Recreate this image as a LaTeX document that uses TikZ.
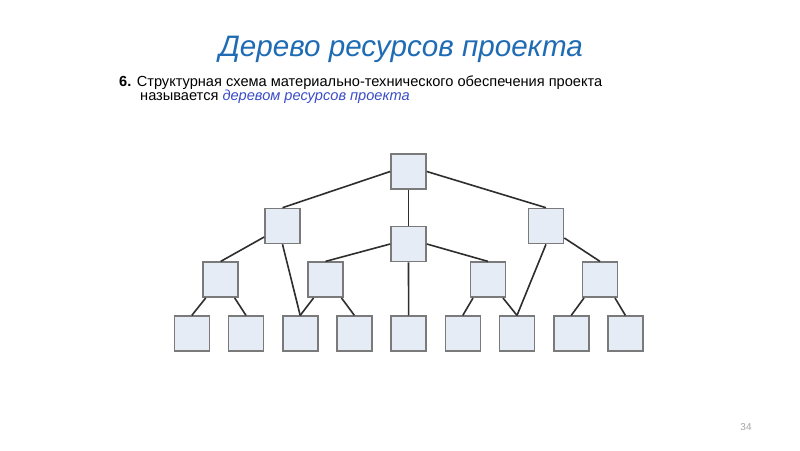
\documentclass[tikz,border=0pt]{standalone}
\usepackage{fontspec}
\setmainfont{Liberation Sans}
\begin{document}
\begin{tikzpicture}[x=1pt,y=-1pt,
  box/.style={draw=boxline,fill=boxfill,line width=1.6pt,minimum size=35pt,inner sep=0pt},
  edge/.style={draw=edgecol,line width=1.6pt},
  ]
\definecolor{boxline}{HTML}{7A7A7A}
\definecolor{boxfill}{HTML}{E6ECF6}
\definecolor{edgecol}{HTML}{2E2E2E}
\definecolor{titleblue}{HTML}{1F6CB5}
\definecolor{termblue}{HTML}{3A4CC8}
\definecolor{pagegray}{HTML}{A6A6A6}
\useasboundingbox[fill=white] (0,0) rectangle (800,450);
% texts
\node[anchor=base,inner sep=0pt,text=titleblue,font=\fontsize{29.6}{36}\selectfont\itshape] (title) at (401,56) {Дерево ресурсов проекта};
\node[anchor=base west,inner sep=0pt,font=\fontsize{14.6}{17}\selectfont] (line1) at (119,86.7) {\textbf{6.} Структурная схема материально-технического обеспечения проекта};
\node[anchor=base west,inner sep=0pt,font=\fontsize{14.6}{17}\selectfont] (line2) at (140,100.7) {называется \textcolor{termblue}{\itshape деревом ресурсов проекта}};
\node[inner sep=0pt,text=pagegray,font=\fontsize{10}{12}\selectfont] (page) at (746,427) {34};
% boxes
\node[box] (root) at (408.5,171.5) {};
\node[box] (L) at (282.5,226) {};
\node[box] (M) at (408.5,244) {};
\node[box] (R) at (546,226) {};
\node[box] (a) at (220.7,279.7) {};
\node[box] (b) at (325.5,279.7) {};
\node[box] (c) at (488,279.7) {};
\node[box] (d) at (600,279.7) {};
\foreach \i/\x in {1/191.8,2/246,3/300.2,4/354.4,5/408.6,6/462.8,7/517,8/571.2,9/625.4}
  \node[box] (n\i) at (\x,333.7) {};
% connectors
\draw[edge] (root.west) -- (L.north);
\draw[edge] (root.east) -- (R.north);
\draw[edge] (root.south) -- (M.north);
\draw[edge] ([yshift=-11pt]L.west) -- (a.north);
\draw[edge] (L.south) -- (n3.north);
\draw[edge] ([yshift=-12pt]R.east) -- (d.north);
\draw[edge] (R.south) -- (n7.north);
\draw[edge] (M.west) -- (b.north);
\draw[edge] (M.east) -- (c.north);
\draw[edge] (M.south) -- (n5.north);
\draw[edge] ([xshift=-15pt]a.south) -- (n1.north);
\draw[edge] ([xshift=14pt]a.south) -- (n2.north);
\draw[edge] ([xshift=-12pt]b.south) -- (n3.north);
\draw[edge] ([xshift=16pt]b.south) -- (n4.north);
\draw[edge] ([xshift=-15pt]c.south) -- (n6.north);
\draw[edge] ([xshift=15pt]c.south) -- (n7.north);
\draw[edge] ([xshift=-16pt]d.south) -- (n8.north);
\draw[edge] ([xshift=15pt]d.south) -- (n9.north);
\end{tikzpicture}
\end{document}
